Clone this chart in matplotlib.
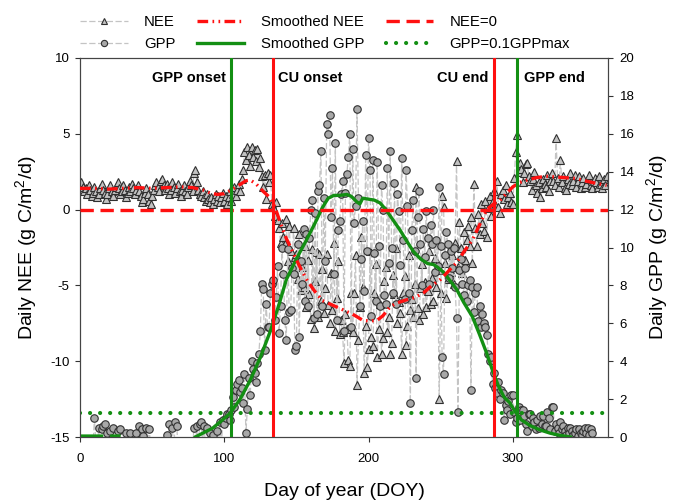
import numpy as np
import matplotlib
matplotlib.use("Agg")
import matplotlib.pyplot as plt

plt.rcParams['font.family'] = ['Liberation Sans', 'DejaVu Sans']
plt.rcParams['mathtext.fontset'] = 'custom'
plt.rcParams['mathtext.rm'] = 'Liberation Sans'
plt.rcParams['mathtext.it'] = 'Liberation Sans:italic'
plt.rcParams['axes.unicode_minus'] = False

# ---------------- data ----------------
nee_daily = [
    1.8, 1.5, 1.2, 1.4, 1.0, 1.6, 1.3, 0.9, 1.1, 1.5,
    1.2, 0.8, 1.0, 1.4, 1.7, 1.3, 1.1, 0.7, 1.0, 1.4,
    1.6, 1.2, 0.9, 1.3, 1.5, 1.8, 1.4, 1.0, 1.2, 1.6,
    1.3, 0.8, 1.1, 1.5, 1.2, 1.7, 1.4, 1.0, 1.3, 1.6,
    1.2, 0.9, 0.5, 0.7, 1.1, 1.4, 1.0, 0.6, 0.4, 0.9,
    1.3, 1.6, 1.8, 1.5, 1.2, 1.9, 2.0, 1.6, 1.3, 1.7,
    1.4, 1.0, 1.3, 1.8, 1.5, 1.1, 1.4, 1.7, 1.2, 0.9,
    1.3, 1.6, 1.2, 1.0, 1.5, 1.9, 1.6, 1.2, 2.4, 2.6,
    1.8, 1.3, 1.0, 0.9, 1.2, 0.8, 0.6, 1.0, 0.7, 0.5,
    0.8, 0.4, 0.7, 1.0, 0.6, 0.9, 0.5, 0.8, 1.1, 0.6,
    0.9, 0.4, 0.8, 1.2, 0.6, 1.0, 1.5, 0.9, 1.3, 1.7,
    1.2, 2.0, 2.6, 3.8, 3.3, 4.1, 3.6, 2.9, 4.1, 3.5,
    3.9, 3.2, 4.0, 2.8, 3.4, 2.2, 1.5, 2.3, 0.7, 2.4,
    1.8, 2.3, 0.4, 0.2, -0.4, 0.5, -0.7, -1.2, -2.2, -0.9,
    -1.8, -2.3, -0.6, -3.4, -1.1, -2.7, -4.0, -1.2, -3.1, -2.9,
    -4.6, -1.6, -5.3, -3.8, -5.1, -2.4, -6.4, -3.3, -5.6, -7.2,
    -2.6, -7.8, -4.7, -2.8, -7.1, -2.9, -6.0, -3.9, -6.8, -5.2,
    -2.9, -6.3, -7.5, -4.2, -6.6, -2.2, -8.0, -5.8, -3.4, -8.2,
    -7.3, -8.1, -10.1, -6.9, -7.9, -9.9, -10.3, -5.5, -8.1, -5.5,
    -3.0, -11.6, -8.6, -6.4, -1.8, -5.1, -10.8, -7.7, -10.4, -9.2,
    -2.7, -8.4, -9.0, -5.5, -3.6, -9.7, -7.9, -6.2, -9.5, -8.5,
    -4.7, -3.8, -8.1, -7.1, -9.5, -8.8, -4.3, -5.6, -2.5, -7.5,
    -6.1, -6.8, -9.5, -5.5, -4.4, -8.9, -7.7, -3.0, -6.6, -5.9,
    -7.1, -4.9, 1.5, -6.5, -7.3, -5.2, -3.6, -6.9, -4.8, -6.4,
    -5.4, -2.7, -6.2, -4.5, -6.0, -3.2, -5.1, -4.0, -12.5, -5.5,
    0.9, 0.2, -3.5, -5.8, -4.6, -2.9, -4.1, -3.0, -4.9, -2.2,
    3.2, -3.8, -0.8, -2.5, -4.2, -1.5, -3.3, -2.0, -1.1, -2.4,
    -0.5, -3.5, 1.7, -1.2, -2.4, -0.3, -1.6, 0.4, -0.9, -1.4,
    0.6, -1.8, 0.1, 0.9, -0.4, 0.6, 1.2, 0.3, 1.9, 0.2,
    -0.2, 1.0, 1.3, 0.7, 1.6, 0.4, 0.8, 1.1, 0.5, 0.4,
    2.1, 3.8, 4.9, 2.5, 3.1, 2.7, 1.8, 2.4, 3.0, 3.1,
    2.2, 1.9, 1.3, 2.0, 2.5, 1.6, 1.1, 1.8, 0.8, 1.4,
    2.0, 1.7, 1.5, 2.3, 1.2, 1.9, 2.4, 1.9, 1.6, 4.7,
    2.1, 1.5, 3.3, 1.8, 2.2, 1.4, 1.3, 2.0, 1.7, 2.4,
    1.6, 1.9, 2.3, 1.5, 1.9, 2.2, 1.4, 1.8, 2.1, 1.5,
    1.7, 2.0, 2.3, 1.6, 1.4, 1.9, 2.1, 1.8, 1.5, 2.2,
    1.7, 1.4, 2.0, 1.6, 2.2,
]

gpp_daily = [
    -0.4, -0.6, -0.5, -0.4, -0.7, -0.5, -0.4, -0.6, -0.5, 1.0,
    -0.4, -0.5, 0.5, -0.6, 0.4, 0.6, 0.7, -0.5, 0.2, -0.4,
    0.3, -0.5, 0.5, -0.4, -0.6, 0.3, -0.5, 0.4, -0.4, -0.6,
    -0.5, 0.2, -0.4, -0.5, 0.2, -0.6, -0.4, -0.5, 0.2, -0.4,
    0.6, -0.5, 0.4, 0.05, -0.6, 0.5, -0.4, 0.4, -0.5, -0.6,
    -0.4, -0.5, -0.7, -0.4, -0.6, -0.5, -0.4, -0.6, -0.5, 0.1,
    -0.4, 0.7, -0.5, 0.5, -0.6, 0.8, 0.6, -0.5, -0.4, -0.6,
    -0.5, -0.4, -0.6, -0.5, -0.7, -0.4, -0.5, -0.6, 0.5, -0.4,
    0.6, -0.5, 0.7, 0.8, -0.4, 0.6, -0.5, 0.5, -0.6, 0.2,
    -0.4, 0.1, -0.5, -0.6, 0.3, -0.4, 0.8, -0.5, 0.9, 0.7,
    1.0, 1.2, 1.2, 0.9, 1.4, 2.1, 1.6, 2.5, 2.8, 3.0,
    2.4, 2.6, 1.8, 3.3, 0.2, 1.5, 3.1, 2.2, 4.0, 3.6,
    3.4, 2.9, 3.9, 4.4, 5.6, 8.1, 7.8, 4.6, 7.0, 5.8,
    5.8, 7.6, 8.1, 8.3, 6.2, 7.4, 9.0, 5.5, 6.9, 10.0,
    8.6, 6.2, 5.1, 9.9, 6.6, 6.7, 8.9, 8.6, 4.6, 4.8,
    10.2, 5.3, 9.3, 8.1, 11.0, 7.2, 10.7, 6.9, 10.5, 12.0,
    12.5, 6.3, 11.8, 6.5, 13.0, 13.3, 15.1, 6.9, 12.6, 9.3,
    16.5, 16.0, 17.0, 11.6, 14.2, 8.6, 15.5, 6.2, 10.9, 11.4,
    12.8, 13.5, 5.6, 12.9, 13.9, 14.8, 16.0, 5.8, 15.2, 11.3,
    12.2, 17.3, 12.6, 6.9, 9.4, 11.4, 7.7, 14.9, 9.8, 15.8,
    14.1, 6.4, 14.6, 9.7, 7.2, 14.5, 10.1, 6.9, 13.3, 12.0,
    7.5, 7.0, 14.2, 9.2, 15.1, 10.0, 7.6, 13.4, 7.0, 12.8,
    11.9, 9.1, 14.7, 10.4, 7.3, 14.1, 12.2, 7.6, 1.8, 10.9,
    12.5, 9.8, 3.1, 11.6, 13.0, 10.2, 8.0, 11.0, 9.5, 11.9,
    10.5, 8.1, 11.2, 10.2, 12.0, 8.7, 10.4, 9.0, 13.2, 10.1,
    4.2, 3.3, 9.6, 10.8, 10.2, 8.4, 9.8, 8.9, 10.0, 7.9,
    6.3, 1.3, 8.8, 9.4, 8.1, 7.5, 8.9, 7.2, 8.0, 8.3,
    2.5, 7.9, 6.6, 7.6, 7.9, 6.1, 6.9, 5.8, 6.5, 6.0,
    5.8, 5.4, 4.4, 4.0, 4.2, 2.8, 3.4, 2.6, 2.3, 2.9,
    2.0, 2.5, 2.3, 0.9, 1.7, 1.4, 1.9, 1.2, 2.2, 2.2,
    1.3, 0.8, 1.0, 1.6, 0.9, 1.4, 1.4, 1.1, 0.7, 0.3,
    1.2, 1.2, 0.6, 1.0, 0.8, 0.4, 0.9, 0.5, 1.1, 0.7,
    1.1, 0.6, 0.6, 1.3, 1.0, 0.4, 1.6, 1.6, 0.3, 0.7,
    0.5, 0.2, 0.8, 0.4, 0.6, 0.3, 0.1, 0.5, 0.2, 0.5,
    0.3, 0.1, 0.2, 0.4, 0.05, 0.4, 0.2, 0.1, 0.3, 0.5,
    0.2, 0.5, 0.1, 0.4, 0.2,
]

smooth_nee_doy = [0, 10, 20, 30, 40, 50, 60, 70, 78, 85, 90, 95, 100, 105, 110,
                  115, 118, 122, 127, 131, 135, 139, 143, 147, 152, 157, 162,
                  168, 175, 182, 189, 196, 201, 206, 210, 215, 220, 226, 232,
                  238, 244, 250, 255, 261, 266, 272, 277, 282, 287, 291, 296,
                  300, 305, 310, 316, 323, 330, 337, 344, 350, 357, 365]
smooth_nee = [1.4, 1.4, 1.35, 1.4, 1.45, 1.4, 1.45, 1.5, 1.45, 1.3, 1.1, 1.0,
              1.05, 1.3, 1.6, 1.9, 1.95, 1.7, 1.2, 0.85, 0.2, -0.9, -1.9, -2.7,
              -3.7, -4.6, -5.3, -6.0, -6.3, -6.6, -6.9, -7.3, -7.35, -7.3, -7.0,
              -6.4, -6.15, -5.96, -5.8, -5.5, -5.0, -4.6, -4.1, -3.5, -2.8, -2.0,
              -1.0, 0.0, 0.4, 0.6, 1.1, 1.5, 1.8, 1.95, 2.1, 2.2, 2.15, 2.1,
              2.05, 1.9, 1.75, 1.6]

smooth_gpp_doy = [0, 5, 10, 15, 18, 22, 27, 28,
                  80, 85, 92, 98, 104, 111, 118, 125, 132, 138, 143, 150, 157,
                  163, 168, 172, 176, 180, 185, 188, 192, 194, 196, 200, 204,
                  208, 212, 217, 222, 226, 231, 236, 241, 245, 248, 252, 256,
                  261, 266, 272, 277, 282, 286, 290, 294, 298, 302, 306, 312,
                  319, 326, 333, 340]
smooth_gpp = [0.05, 0.05, 0.05, 0.05, np.nan, 0.05, 0.05, np.nan,
              0.0, 0.2, 0.47, 0.85, 1.25, 2.0, 3.0, 4.2, 5.6, 7.0, 8.3, 9.4,
              10.4, 11.3, 12.1, 12.6, 12.75, 12.75, 12.8, 12.7, 12.4, 12.3,
              12.6, 12.55, 12.5, 12.35, 12.0, 11.45, 10.9, 10.4, 9.8, 9.4, 9.15,
              9.1, 8.95, 8.7, 8.3, 7.8, 7.1, 6.35, 5.4, 4.4, 3.5, 2.7, 2.1, 1.8,
              1.3, 0.9, 0.6, 0.37, 0.2, 0.08, 0.0]

gpp_threshold = 1.25
nee_zero = 0.0
event_doy = [105, 134, 287, 303]
event_labels = ["GPP onset", "CU onset", "CU end", "GPP end"]
x_ticks = [0, 100, 200, 300]
nee_ticks = [-15, -10, -5, 0, 5, 10]
gpp_ticks = [0, 2, 4, 6, 8, 10, 12, 14, 16, 18, 20]

nee_doy = np.arange(1, len(nee_daily) + 1)
gpp_doy = np.arange(1, len(gpp_daily) + 1)

# ---------------- styles ----------------
RED = '#ff1010'
GREEN = '#138f13'
GREY_LINE = '#c4c4c4'
EDGE = '#303030'

fig = plt.figure(figsize=(6.75, 5.04), dpi=100)
ax = fig.add_axes([80 / 675, 1 - 437 / 504, (608 - 80) / 675, (437 - 58) / 504])
ax2 = ax.twinx()
ax3 = ax.twinx()

# NEE daily (bottom layer)
h_nee, = ax.plot(nee_doy, nee_daily, color=GREY_LINE, lw=0.9, ls=(0, (5, 2)),
                 marker='^', ms=5.8, mfc='#c2c2c2', mec=EDGE, mew=0.8,
                 label='NEE')

# GPP daily + smoothed GPP + threshold
h_gpp, = ax2.plot(gpp_doy, gpp_daily, color=GREY_LINE, lw=0.9, ls=(0, (5, 2)),
                  marker='o', ms=5.4, mfc='#a8a8a8', mec=EDGE, mew=0.8,
                  label='GPP')
h_sgpp, = ax2.plot(smooth_gpp_doy, smooth_gpp, color=GREEN, lw=2.4,
                   label='Smoothed GPP')
h_thr = ax2.axhline(gpp_threshold, color=GREEN, lw=3.0, ls=(0, (0.01, 2.4)),
                    dash_capstyle='round', label='GPP=0.1GPPmax')

# top layer: smoothed NEE, zero line, event lines
h_snee, = ax3.plot(smooth_nee_doy, smooth_nee, color=RED, lw=2.4,
                   ls=(0, (3.2, 1.3, 0.5, 1.3, 0.5, 1.3)),
                   label='Smoothed NEE')
h_zero = ax3.axhline(nee_zero, color=RED, lw=2.4, ls=(0, (4, 2)), label='NEE=0')
ev_colors = [GREEN, RED, RED, GREEN]
for d, c in zip(event_doy, ev_colors):
    ax3.axvline(d, color=c, lw=2.2)
ha_list = ['right', 'left', 'right', 'left']
off = [-4, 3, -4, 5]
for d, lab, ha, o in zip(event_doy, event_labels, ha_list, off):
    ax3.text(d + o, 8.65, lab, ha=ha, va='center', fontsize=10.5,
             fontweight='bold')

# axes limits / ticks
for a in (ax, ax2, ax3):
    a.set_xlim(0, 366)
ax.set_ylim(-15, 10)
ax3.set_ylim(-15, 10)
ax2.set_ylim(0, 20)
ax3.axis('off')

ax.set_xticks(x_ticks)
ax.set_yticks(nee_ticks)
ax2.set_yticks(gpp_ticks)
ax.tick_params(axis='both', direction='out', length=3.5, width=0.8,
               labelsize=9.5, pad=4, colors='#333333', labelcolor='black')
ax.tick_params(axis='x', pad=8)
ax2.tick_params(axis='y', direction='out', length=3.5, width=0.8,
                labelsize=9.5, pad=5, colors='#333333', labelcolor='black')

for a in (ax, ax2):
    for s in a.spines.values():
        s.set_color('#444444')
        s.set_linewidth(0.8)

ax.set_xlabel('Day of year (DOY)', fontsize=14, labelpad=13)
ax.set_ylabel('Daily NEE (g C/m$^2$/d)', fontsize=14, labelpad=8)
ax2.set_ylabel('Daily GPP (g C/m$^2$/d)', fontsize=14, labelpad=7)

handles = [h_nee, h_gpp, h_snee, h_sgpp, h_zero, h_thr]
labels = [h.get_label() for h in handles]
leg = fig.legend(handles, labels, ncol=3, loc='upper left',
                 bbox_to_anchor=(74 / 675, 1 - 9 / 504), frameon=False,
                 fontsize=10.7, handlelength=3.2, handletextpad=1.1,
                 columnspacing=1.45, labelspacing=0.55, borderaxespad=0,
                 numpoints=1)
for lh in leg.legend_handles:
    if hasattr(lh, 'set_markersize'):
        lh.set_markersize(4.5)

fig.savefig('out.png', dpi=100)
